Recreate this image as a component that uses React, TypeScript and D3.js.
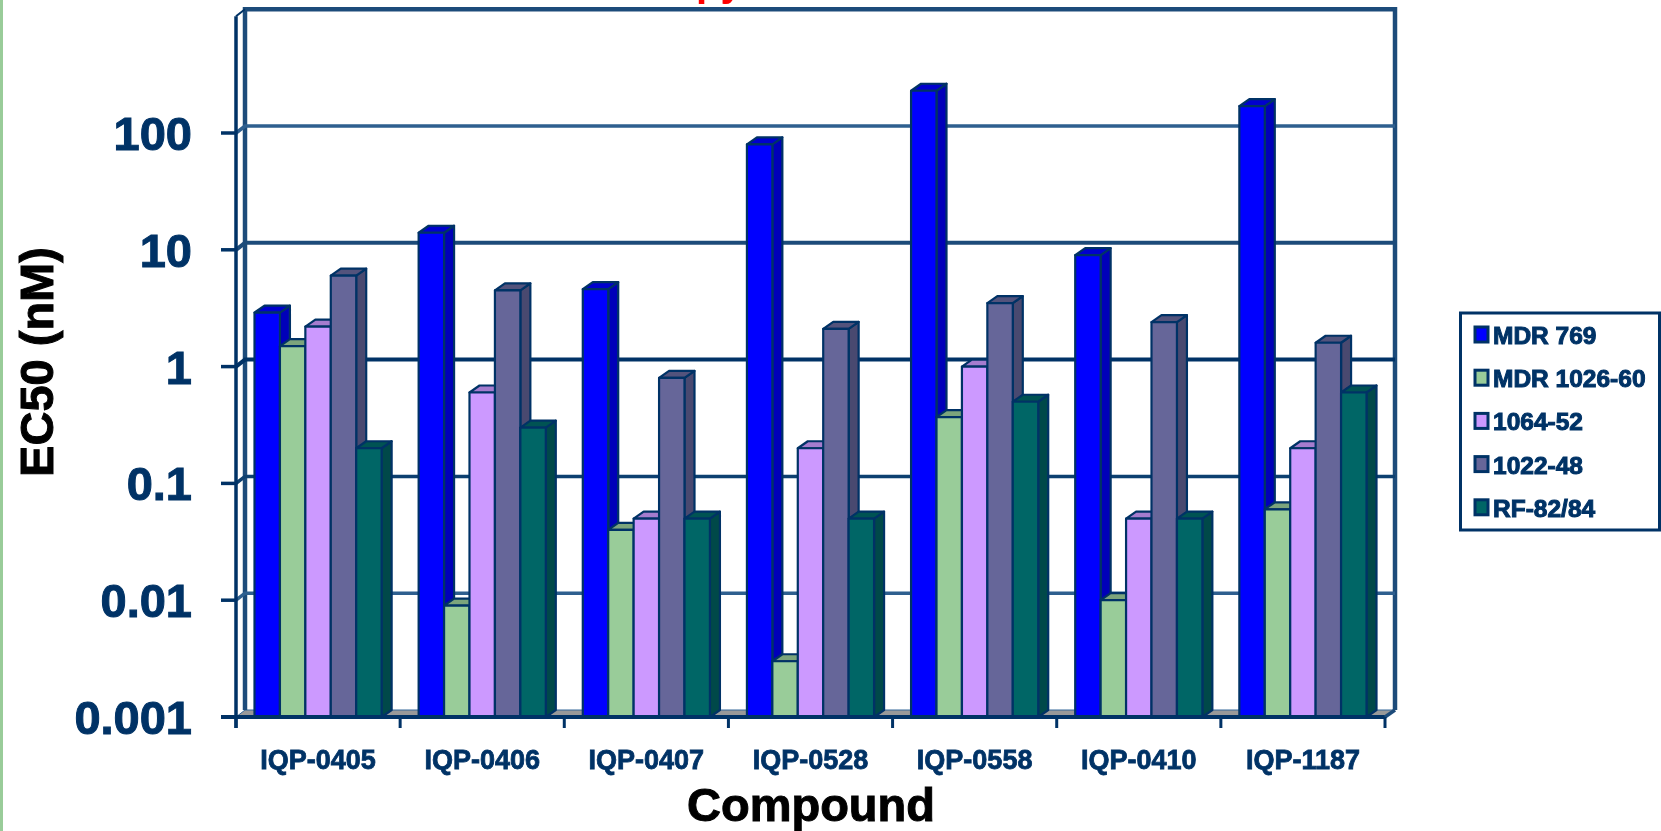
import * as d3 from 'd3'

const COMPOUNDS = ['IQP-0405', 'IQP-0406', 'IQP-0407', 'IQP-0528', 'IQP-0558', 'IQP-0410', 'IQP-1187']
const SERIES = ['MDR 769', 'MDR 1026-60', '1064-52', '1022-48', 'RF-82/84']
const MDR_769 = [2.9, 14, 4.6, 80, 230, 9, 170]
const MDR_1026 = [1.5, 0.009, 0.04, 0.003, 0.37, 0.01, 0.06]
const V_1064 = [2.2, 0.6, 0.05, 0.2, 1, 0.05, 0.2]
const V_1022 = [6, 4.5, 0.8, 2.1, 3.5, 2.4, 1.6]
const RF_82 = [0.2, 0.3, 0.05, 0.05, 0.5, 0.05, 0.6]
const VALUES = [MDR_769, MDR_1026, V_1064, V_1022, RF_82]
const TICKS = [0.001, 0.01, 0.1, 1, 10, 100]
const TICK_LABELS = ['0.001', '0.01', '0.1', '1', '10', '100']
const COLORS = ['#0000ff', '#99cc99', '#cc99ff', '#666699', '#006666']

const NAVY = '#003366'
const FONT = '"Liberation Sans", Arial, sans-serif'
const W = 1661
const H = 831
const X0 = 236
const X1 = 1385
const DX = 9
const DY = 7
const BAR_DX = 10
const BAR_DY = 7

// the reference is an upscaled bitmap, so everything is slightly soft
const GRID_STYLE: Record<string, [string, number]> = {
  '0.01': ['#2f5f8f', 3.5],
  '0.1': ['#0f3f70', 3.5],
  '1': ['#003366', 4],
  '10': ['#1f4c7a', 4],
  '100': ['#2f5f8f', 3.5],
}

export default function App() {
  const y = d3.scaleLog().domain([0.001, 1000]).range([717, 16.2])
  const x = d3.scaleBand<string>().domain(COMPOUNDS).range([X0, X1]).paddingInner(0).paddingOuter(0)
  const inner = d3.scaleBand<string>().domain(SERIES)
    .range([18.5, x.bandwidth() - 18.5])
  const bw = inner.bandwidth()
  const baseY = y(0.001)
  const topY = y(1000)

  return (
    <svg width={W} height={H} viewBox={`0 0 ${W} ${H}`}
      style={{ position: 'absolute', left: 0, top: 0, background: '#fff', fontFamily: FONT }}>
      <defs>
        <filter id="soft" x="-2%" y="-2%" width="104%" height="104%">
          <feGaussianBlur stdDeviation="0.6" />
        </filter>
      </defs>
      <g filter="url(#soft)">
        <rect x={0} y={0} width={3} height={H} fill="#99cc99" />
        <text x={696} y={-4} fontSize={40} fontWeight={700} fill="#ff0000">py</text>

        {/* walls */}
        <path d={`M${X0},${baseY}L${X0 + DX},${baseY - DY}L${X1 + DX + 1},${baseY - DY}L${X1},${baseY}Z`}
          fill="#999999" stroke="#336699" strokeWidth={1} />
        <path d={`M${X0 + DX},${baseY - DY}V${topY - DY}H${X1 + DX + 1}V${baseY - DY}`}
          fill="none" stroke="#1f4c7a" strokeWidth={4.5} />
        <path d={`M${X0},${topY}L${X0 + DX},${topY - DY}`} stroke={NAVY} strokeWidth={2} fill="none" />

        {/* gridlines */}
        {TICKS.slice(1).map(t => {
          const [c, sw] = GRID_STYLE[String(t)]
          return (
            <path key={t} d={`M${X0},${y(t)}L${X0 + DX},${y(t) - DY}H${X1 + DX + 1}`} fill="none" stroke={c} strokeWidth={sw} />
          )
        })}

        {/* bars */}
        {COMPOUNDS.map((name, i) => (
          <g key={name} transform={`translate(${x(name)},0)`}>
            {SERIES.map((s, j) => {
              const v = VALUES[j][i]
              const bx = inner(s)!
              const ty = y(v)
              const col = d3.color(COLORS[j])!
              return (
                <g key={s} stroke={NAVY} strokeWidth={2.2} strokeLinejoin="round">
                  <path d={`M${bx + bw},${ty}l${BAR_DX},${-BAR_DY}V${baseY - BAR_DY}l${-BAR_DX},${BAR_DY}Z`}
                    fill={col.darker(0.9).formatHex()} />
                  <path d={`M${bx},${ty}l${BAR_DX},${-BAR_DY}h${bw}l${-BAR_DX},${BAR_DY}Z`}
                    fill={col.darker(0.6).formatHex()} />
                  <rect x={bx} y={ty} width={bw} height={baseY - ty} fill={COLORS[j]} />
                </g>
              )
            })}
          </g>
        ))}

        {/* front axes */}
        <line x1={X0} x2={X0} y1={topY} y2={baseY + 11} stroke={NAVY} strokeWidth={3.5} />
        <line x1={X0 - 15} x2={X1} y1={baseY} y2={baseY} stroke={NAVY} strokeWidth={4} />
        <line x1={X1} x2={X1 + DX + 1} y1={baseY} y2={baseY - DY} stroke="#1f4c7a" strokeWidth={3.5} />
        {TICKS.map((t, i) => (
          <g key={t}>
            <line x1={X0 - 15} x2={X0} y1={y(t)} y2={y(t)} stroke={NAVY} strokeWidth={3.5} />
            <text x={192} y={y(t) + 17} textAnchor="end" fontSize={47} fontWeight={700} fill={NAVY} stroke={NAVY} strokeWidth={1}>
              {TICK_LABELS[i]}
            </text>
          </g>
        ))}
        {x.domain().concat('').map((name, i) => {
          const tx = X0 + i * x.step()
          return <line key={i} x1={tx} x2={tx} y1={baseY} y2={baseY + 11} stroke={NAVY} strokeWidth={3} />
        })}
        {COMPOUNDS.map(name => (
          <text key={name} x={x(name)! + x.bandwidth() / 2} y={769} textAnchor="middle"
            fontSize={27} fontWeight={700} fill={NAVY} stroke={NAVY} strokeWidth={0.8}>
            {name}
          </text>
        ))}

        {/* axis titles */}
        <text x={811} y={821} textAnchor="middle" fontSize={47} fontWeight={700} fill="#000" stroke="#000" strokeWidth={1}>Compound</text>
        <text transform="translate(53,362) rotate(-90)" textAnchor="middle" fontSize={47} fontWeight={700} fill="#000" stroke="#000" strokeWidth={1}>
          EC50 (nM)
        </text>

        {/* legend */}
        <rect x={1460.5} y={313} width={199} height={217} fill="#fff" stroke={NAVY} strokeWidth={3} />
        {SERIES.map((s, j) => {
          const cy = 335 + j * 43.2
          return (
            <g key={s}>
              <rect x={1475} y={cy - 8} width={13} height={15} fill={COLORS[j]} stroke={NAVY} strokeWidth={3} />
              <text x={1493} y={cy + 9} fontSize={24.5} fontWeight={700} fill={NAVY} stroke={NAVY} strokeWidth={1}>
                {s}
              </text>
            </g>
          )
        })}
      </g>
    </svg>
  )
}
